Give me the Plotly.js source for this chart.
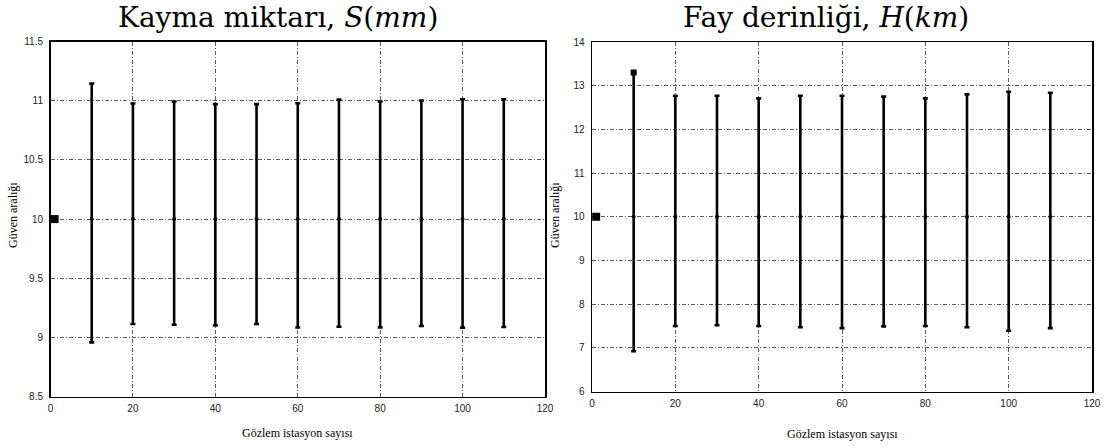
<!DOCTYPE html>
<html>
<head>
<meta charset="utf-8">
<script src="https://cdn.plot.ly/plotly-3.0.1.min.js"></script>
<style>html,body{margin:0;padding:0;background:#fff;}#chart{width:1115px;height:448px;}</style>
</head>
<body>
<div id="chart"></div>
<script>
// ---- data ----
const stations = [10, 20, 30, 40, 50, 60, 70, 80, 90, 100, 110];
const centerS = [10, 10, 10, 10, 10, 10, 10, 10, 10, 10, 10];
const upperS = [11.146, 10.977, 10.994, 10.972, 10.972, 10.98, 11.01, 10.994, 11.003, 11.014, 11.014];
const lowerS = [8.958, 9.113, 9.107, 9.101, 9.113, 9.084, 9.09, 9.084, 9.096, 9.082, 9.088];
const centerH = [10, 10, 10, 10, 10, 10, 10, 10, 10, 10, 10];
const upperH = [13.3, 12.77, 12.77, 12.71, 12.77, 12.77, 12.75, 12.71, 12.8, 12.86, 12.84];
const lowerH = [6.92, 7.50, 7.515, 7.50, 7.47, 7.45, 7.49, 7.50, 7.47, 7.39, 7.45];
const trueX = [1];
const trueS = [10];
const trueH = [10];
const titleS = 'Kayma miktarı, <i>S</i>(<i>mm</i>)';
const titleH = 'Fay derinliği, <i>H</i>(<i>km</i>)';
const xTitle = 'Gözlem istasyon sayısı';
const yTitle = 'Güven aralığı';

// ---- layout helpers ----
const W = 1115, H = 448;
const px = v => v / W;
const py = v => 1 - v / H;

function errTrace(center, up, lo, xa, ya) {
  return {
    type: 'scatter', mode: 'markers', x: stations, y: center, xaxis: xa, yaxis: ya,
    marker: {color: '#000', size: 4, symbol: 'circle'},
    error_y: {
      type: 'data', symmetric: false,
      array: up.map((u, i) => u - center[i]),
      arrayminus: lo.map((l, i) => center[i] - l),
      color: '#000', thickness: 2.6, width: 2.5
    },
    showlegend: false, hoverinfo: 'skip'
  };
}

const traces = [
  errTrace(centerS, upperS, lowerS, 'x', 'y'),
  errTrace(centerH, upperH, lowerH, 'x2', 'y2'),
  {type: 'scatter', mode: 'markers', x: trueX, y: trueS, xaxis: 'x', yaxis: 'y',
   marker: {color: '#000', size: 8, symbol: 'square'}, showlegend: false, cliponaxis: false},
  {type: 'scatter', mode: 'markers', x: trueX, y: trueH, xaxis: 'x2', yaxis: 'y2',
   marker: {color: '#000', size: 8, symbol: 'square'}, showlegend: false, cliponaxis: false},
  {type: 'scatter', mode: 'markers', x: [stations[0]], y: [upperH[0]], xaxis: 'x2', yaxis: 'y2',
   marker: {color: '#000', size: 6, symbol: 'square'}, showlegend: false}
];

const tickFont = {family: 'Liberation Sans, Arial, sans-serif', size: 10, color: '#222'};
const gdash = '4px,2px,1px,2px';
function xax(domain, anchor) {
  return {domain: domain, anchor: anchor, range: [0, 120], dtick: 20, tick0: 0,
    showgrid: true, gridcolor: '#333', griddash: gdash, gridwidth: 0.8,
    zeroline: false, showline: true, linecolor: '#000', linewidth: 1.5, mirror: true,
    ticks: '', tickfont: tickFont, ticklabelstandoff: 2};
}
function yax(domain, anchor, range, dtick) {
  return {domain: domain, anchor: anchor, range: range, dtick: dtick,
    showgrid: true, gridcolor: '#333', griddash: gdash, gridwidth: 0.8,
    zeroline: false, showline: true, linecolor: '#000', linewidth: 1.5, mirror: true,
    ticks: '', tickfont: tickFont, ticklabelstandoff: 4};
}

const serif = 'DejaVu Serif, serif';
const times = 'Liberation Serif, Times New Roman, serif';
const layout = {
  width: W, height: H, autosize: false,
  margin: {l: 0, r: 0, t: 0, b: 0, pad: 0},
  paper_bgcolor: '#fff', plot_bgcolor: '#fff',
  xaxis: xax([px(50.5), px(545)], 'y'),
  yaxis: yax([py(396.5), py(41.7)], 'x', [8.5, 11.5], 0.5),
  xaxis2: xax([px(592), px(1092)], 'y2'),
  yaxis2: yax([py(391.5), py(42)], 'x2', [6, 14], 1),
  annotations: [
    {text: titleS, xref: 'paper', yref: 'paper', x: px(277.5), y: py(17), xanchor: 'center', yanchor: 'middle',
     showarrow: false, font: {family: serif, size: 28, color: '#000'}},
    {text: titleH, xref: 'paper', yref: 'paper', x: px(826), y: py(17), xanchor: 'center', yanchor: 'middle',
     showarrow: false, font: {family: serif, size: 28, color: '#000'}},
    {text: xTitle, xref: 'paper', yref: 'paper', x: px(297), y: py(433), xanchor: 'center', yanchor: 'middle',
     showarrow: false, font: {family: times, size: 12, color: '#000'}},
    {text: xTitle, xref: 'paper', yref: 'paper', x: px(842), y: py(434), xanchor: 'center', yanchor: 'middle',
     showarrow: false, font: {family: times, size: 12, color: '#000'}},
    {text: yTitle, xref: 'paper', yref: 'paper', x: px(13), y: py(215), xanchor: 'center', yanchor: 'middle',
     textangle: -90, showarrow: false, font: {family: times, size: 12, color: '#000'}},
    {text: yTitle, xref: 'paper', yref: 'paper', x: px(555), y: py(215), xanchor: 'center', yanchor: 'middle',
     textangle: -90, showarrow: false, font: {family: times, size: 12, color: '#000'}}
  ]
};

Plotly.newPlot('chart', traces, layout, {staticPlot: true, displayModeBar: false});
</script>
</body>
</html>
